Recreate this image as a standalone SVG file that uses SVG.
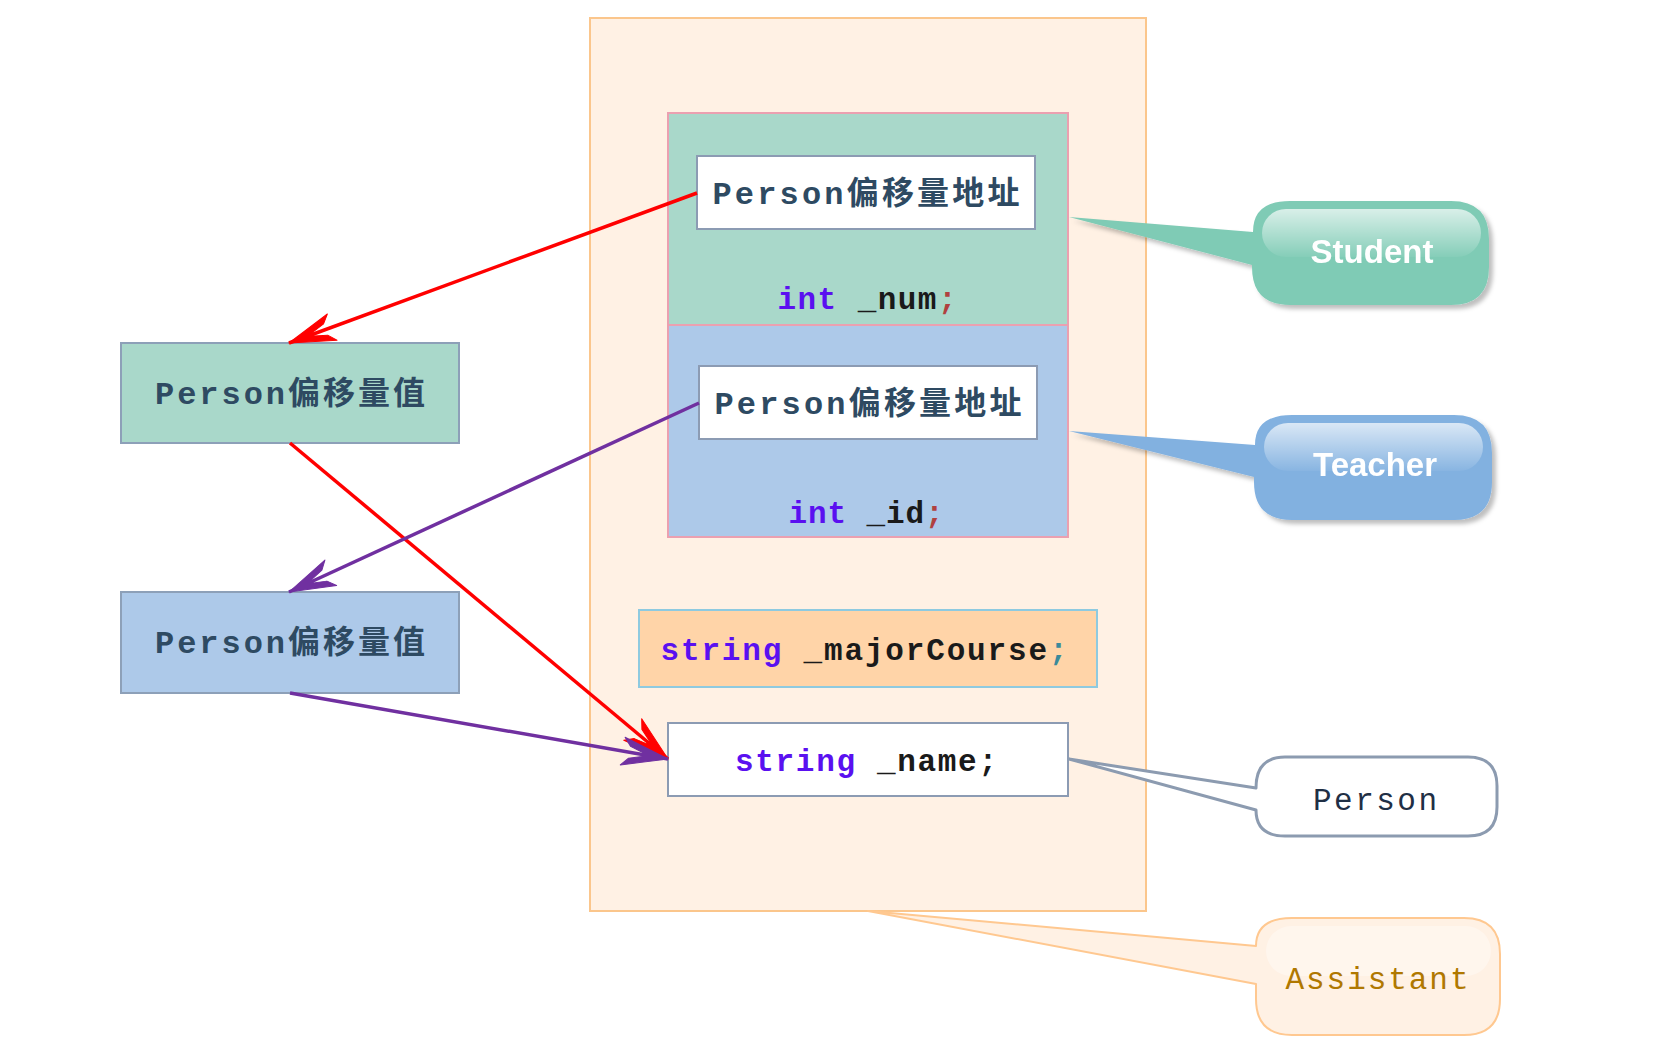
<svg xmlns="http://www.w3.org/2000/svg" width="1658" height="1046" viewBox="0 0 1658 1046">
<style>
.cn{font-family:"Liberation Mono","Noto Sans CJK SC",monospace;font-size:32px;fill:#2e4a62;font-weight:bold}
.code{font-family:"Liberation Mono","Noto Sans CJK SC",monospace;font-size:31px;font-weight:bold}
.kw{fill:#5a10f0}
.id{fill:#1a1a1a}
.sc{fill:#b04040}
.lbl{font-family:"Liberation Sans",Arial,sans-serif;font-size:33px;font-weight:bold;fill:#ffffff}
.red{stroke:#ff0000;stroke-width:3.5;fill:none}
.pur{stroke:#7030a0;stroke-width:3.5;fill:none}
</style>
<defs>
<marker id="ar" markerUnits="userSpaceOnUse" markerWidth="60" markerHeight="40" refX="0" refY="0" orient="auto" viewBox="-50 -20 60 40">
<path d="M0,0 L-46,-14 L-39,-6 L-26,-2 L-26,2 L-39,6 L-46,14 Z" fill="#ff0000" stroke="#ff0000" stroke-width="1" stroke-linejoin="round"/>
</marker>
<marker id="ap" markerUnits="userSpaceOnUse" markerWidth="60" markerHeight="40" refX="0" refY="0" orient="auto" viewBox="-50 -20 60 40">
<path d="M0,0 L-46,-14 L-39,-6 L-26,-2 L-26,2 L-39,6 L-46,14 Z" fill="#7030a0" stroke="#7030a0" stroke-width="1" stroke-linejoin="round"/>
</marker>
<linearGradient id="gl" x1="0" y1="0" x2="0" y2="1">
<stop offset="0" stop-color="#ffffff" stop-opacity="0.7"/>
<stop offset="1" stop-color="#ffffff" stop-opacity="0.05"/>
</linearGradient>
<filter id="sh" x="-10%" y="-10%" width="130%" height="140%">
<feDropShadow dx="4" dy="4" stdDeviation="2" flood-color="#000" flood-opacity="0.25"/>
</filter>
</defs>

<g id="assistant-container">
<rect x="590" y="18" width="556" height="893" fill="#fff1e4" stroke="#fbc68c" stroke-width="2"/>
</g>

<g id="student-part">
<rect x="668" y="113" width="400" height="212" fill="#a9d8ca" stroke="#eba0b0" stroke-width="2"/>
<text x="867" y="309" class="code" text-anchor="middle" textLength="179" lengthAdjust="spacing"><tspan class="kw">int</tspan><tspan class="id"> _num</tspan><tspan class="sc">;</tspan></text>
</g>
<g id="student-ptr">
<rect x="697" y="156" width="338" height="73" fill="#ffffff" stroke="#8c9bb3" stroke-width="2"/>
<text x="866" y="204" class="cn" text-anchor="middle" textLength="307" lengthAdjust="spacing">Person偏移量地址</text>
</g>

<g id="teacher-part">
<rect x="668" y="325" width="400" height="212" fill="#adc9e9" stroke="#eba0b0" stroke-width="2"/>
<text x="866" y="523" class="code" text-anchor="middle" textLength="155" lengthAdjust="spacing"><tspan class="kw">int</tspan><tspan class="id"> _id</tspan><tspan class="sc">;</tspan></text>
</g>
<g id="teacher-ptr">
<rect x="699" y="366" width="338" height="73" fill="#ffffff" stroke="#8c9bb3" stroke-width="2"/>
<text x="868" y="414" class="cn" text-anchor="middle" textLength="307" lengthAdjust="spacing">Person偏移量地址</text>
</g>

<g id="major-course">
<rect x="639" y="610" width="458" height="77" fill="#ffd4a8" stroke="#8ecae0" stroke-width="2"/>
<text x="864" y="660" class="code" text-anchor="middle" textLength="407" lengthAdjust="spacing"><tspan class="kw">string</tspan><tspan class="id"> _majorCourse</tspan><tspan fill="#3a8a9a">;</tspan></text>
</g>

<g id="name-field">
<rect x="668" y="723" width="400" height="73" fill="#ffffff" stroke="#8c9bb3" stroke-width="2"/>
<text x="866" y="771" class="code" text-anchor="middle" textLength="262" lengthAdjust="spacing"><tspan class="kw">string</tspan><tspan class="id"> _name;</tspan></text>
</g>

<g id="offset-green">
<rect x="121" y="343" width="338" height="100" fill="#a9d8ca" stroke="#8da0b8" stroke-width="2"/>
<text x="290" y="404" class="cn" text-anchor="middle" textLength="270" lengthAdjust="spacing">Person偏移量值</text>
</g>

<g id="offset-blue">
<rect x="121" y="592" width="338" height="101" fill="#adc9e9" stroke="#8da0b8" stroke-width="2"/>
<text x="290" y="653" class="cn" text-anchor="middle" textLength="270" lengthAdjust="spacing">Person偏移量值</text>
</g>

<g id="student-callout" filter="url(#sh)">
<path d="M1290,201 H1451 Q1489,201 1489,239 V267 Q1489,305 1451,305 H1290 Q1252,305 1252,267 V265 L1069,217 L1253,232 Q1253,201 1290,201 Z" fill="#7fcbb5"/>
<rect x="1262" y="209" width="219" height="48" rx="24" fill="url(#gl)"/>
<text x="1372" y="263" class="lbl" text-anchor="middle">Student</text>
</g>

<g id="teacher-callout" filter="url(#sh)">
<path d="M1292,415 H1454 Q1492,415 1492,453 V482 Q1492,520 1454,520 H1292 Q1254,520 1254,482 V477 L1069,431 L1255,445 Q1255,415 1292,415 Z" fill="#82b1e0"/>
<rect x="1264" y="423" width="219" height="48" rx="24" fill="url(#gl)"/>
<text x="1375" y="476" class="lbl" text-anchor="middle">Teacher</text>
</g>

<g id="person-callout">
<path d="M1285,757 H1468 Q1497,757 1497,786 V807 Q1497,836 1468,836 H1285 Q1256,836 1256,810 L1069,759 L1256,788 Q1256,757 1285,757 Z" fill="#ffffff" stroke="#8c9bb0" stroke-width="3" stroke-linejoin="round"/>
<text x="1375" y="810" class="code" text-anchor="middle" textLength="124" lengthAdjust="spacing" style="fill:#1f2f45;font-weight:normal">Person</text>
</g>

<g id="assistant-callout">
<path d="M1292,918 H1464 Q1500,918 1500,954 V999 Q1500,1035 1464,1035 H1292 Q1256,1035 1256,999 V984 L868,911 L1256,946 Q1256,918 1292,918 Z" fill="#fff1e4" stroke="#ffc890" stroke-width="2" stroke-linejoin="round"/>
<rect x="1266" y="926" width="225" height="50" rx="25" fill="#ffffff" opacity="0.35"/>
<text x="1377" y="989" class="code" text-anchor="middle" textLength="183" lengthAdjust="spacing" style="fill:#b07800;font-weight:normal">Assistant</text>
</g>

<g id="connectors">
<line x1="697" y1="193" x2="289" y2="343" class="red" marker-end="url(#ar)"/>
<line x1="290" y1="443" x2="668" y2="759" class="red" marker-end="url(#ar)"/>
<line x1="699" y1="403" x2="289" y2="592" class="pur" marker-end="url(#ap)"/>
<line x1="290" y1="693" x2="668" y2="759" class="pur" marker-end="url(#ap)"/>
</g>
</svg>
